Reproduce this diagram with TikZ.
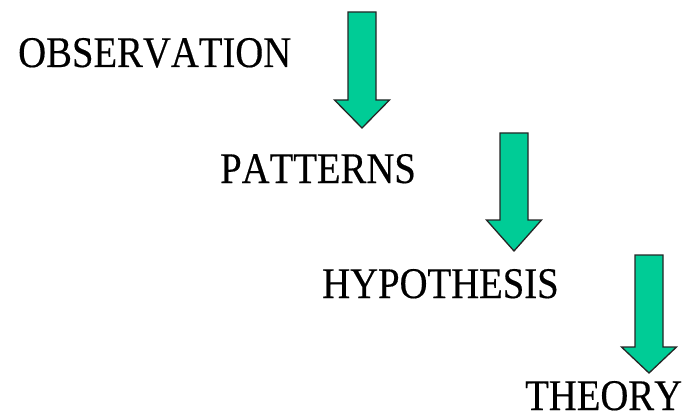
\documentclass[tikz,border=0pt]{standalone}
\usepackage{fontspec}
\setmainfont{Liberation Serif}[Kerning=Off, FakeBold=0.4]
\definecolor{arrowgreen}{RGB}{0,204,150}
\tikzset{
  word/.style={anchor=base west, inner sep=0pt, font=\fontsize{38.7}{40}\selectfont},
  fatarrow/.style={fill=arrowgreen, draw=black!85, line width=1.3pt, line join=miter}
}
\newcommand{\stepword}[3]{\node[word] (#1) at (#2) {\raisebox{0pt}[\height][0pt]{\scalebox{1}[1.13]{#3}}};}
\newcommand{\downarrowshape}[4]{% centre x, top y, head base y, tip y
  \path[fatarrow] (#1-14,#2) -- (#1+14,#2) -- (#1+14,#3) -- (#1+27.5,#3)
    -- (#1,#4) -- (#1-27.5,#3) -- (#1-14,#3) -- cycle;
}
\begin{document}
\begin{tikzpicture}[x=1pt,y=-1pt]
  \useasboundingbox (0,0) rectangle (685,417);
  % the four stages
  \stepword{obs}{18,67}{OBSERVATION}
  \stepword{pat}{220,183}{PATTERNS}
  \stepword{hyp}{322,298}{HYPOTHESIS}
  \stepword{the}{525,410}{THEORY}
  % block arrows leading down from one stage to the next
  \downarrowshape{362}{12}{100}{128}
  \downarrowshape{514}{133}{220}{251}
  \downarrowshape{649}{255}{347}{373}
\end{tikzpicture}
\end{document}
